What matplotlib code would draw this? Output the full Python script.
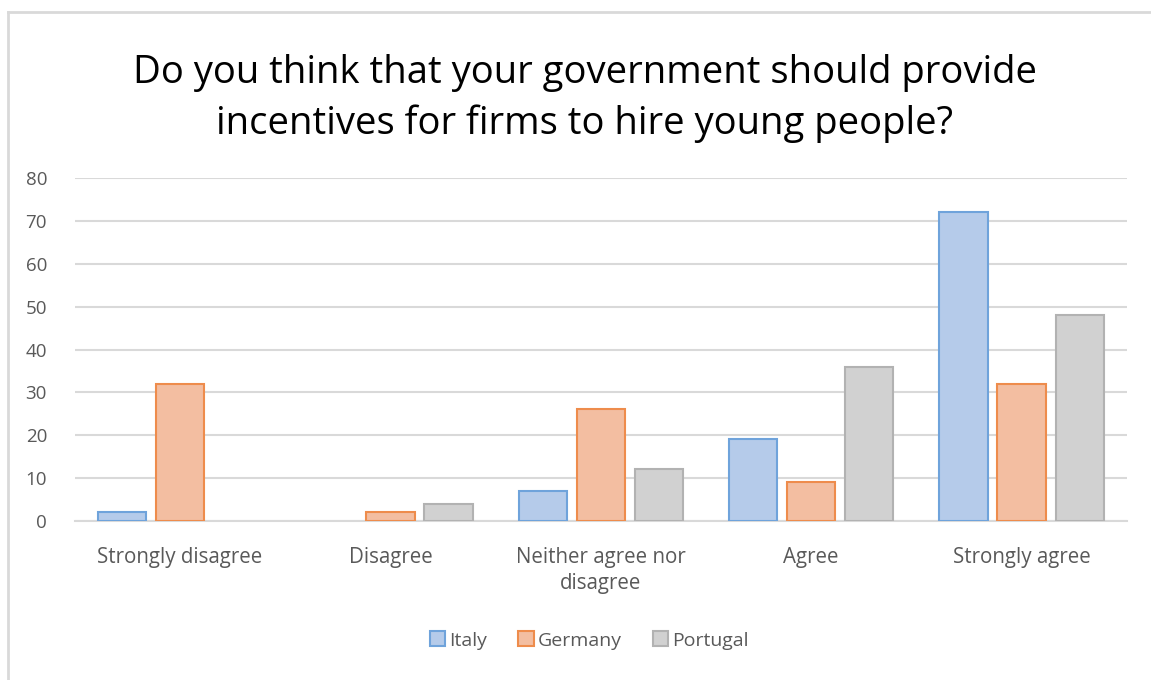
import numpy as np
import matplotlib.pyplot as plt
from matplotlib.lines import Line2D
from matplotlib.patches import Patch

categories = ["Strongly disagree", "Disagree", "Neither agree nor\ndisagree", "Agree", "Strongly agree"]
italy = [2, 0, 7, 19, 72]
germany = [32, 2, 26, 9, 32]
portugal = [0, 4, 12, 36, 48]
series = ["Italy", "Germany", "Portugal"]
fills = ["#B5CBEA", "#F3BEA1", "#D1D1D1"]
edges = ["#6FA3DB", "#EE8C4C", "#B2B2B2"]

plt.rcParams['font.family'] = ['Open Sans', 'DejaVu Sans']

fig = plt.figure(figsize=(11.51, 6.8), dpi=100)
ax = fig.add_axes([0.065, 0.234, 0.914, 0.504])

x = np.arange(len(categories))
w = 0.23
step = 0.276
for i, vals in enumerate([italy, germany, portugal]):
    vals = np.array(vals, dtype=float)
    vals[vals == 0] = np.nan  # empty categories show no bar
    ax.bar(x + (i - 1) * step, vals, w, color=fills[i], edgecolor=edges[i],
           linewidth=1.5, zorder=3)

ax.set_xlim(-0.5, 4.5)
ax.set_ylim(0, 80)
ax.set_yticks(range(0, 81, 10))
ax.yaxis.grid(True, color="#D9D9D9", linewidth=1.5, zorder=0)
for s in ["top", "right", "left"]:
    ax.spines[s].set_visible(False)
ax.spines["bottom"].set_color("#D9D9D9")
ax.spines["bottom"].set_linewidth(1.5)
ax.tick_params(axis="y", length=0, pad=20, labelsize=13.5, labelcolor="#595959")
ax.tick_params(axis="x", length=0, pad=19, labelsize=14.8, labelcolor="#595959")
ax.set_xticks(x)
ax.set_xticklabels(categories, linespacing=1.3)

fig.text(0.508, 0.855, "Do you think that your government should provide\nincentives for firms to hire young people?",
         ha="center", va="center", fontsize=27.5, color="#000000", linespacing=1.42)

handles = [Patch(facecolor=fills[i], edgecolor=edges[i], linewidth=1.5) for i in range(3)]
fig.legend(handles, series, loc="center", bbox_to_anchor=(0.512, 0.058), ncol=3,
           frameon=False, fontsize=14, handlelength=0.8, handleheight=0.8,
           handletextpad=0.2, columnspacing=1.6, labelcolor="#595959")

# chart border (partially cropped)
fig.add_artist(Line2D([8 / 1151, 8 / 1151], [0, 1 - 12 / 680], color="#D9D9D9", linewidth=2,
                      transform=fig.transFigure))
fig.add_artist(Line2D([8 / 1151, 1], [1 - 12 / 680, 1 - 12 / 680], color="#D9D9D9", linewidth=2,
                      transform=fig.transFigure))

fig.savefig("out.png", dpi=100)
